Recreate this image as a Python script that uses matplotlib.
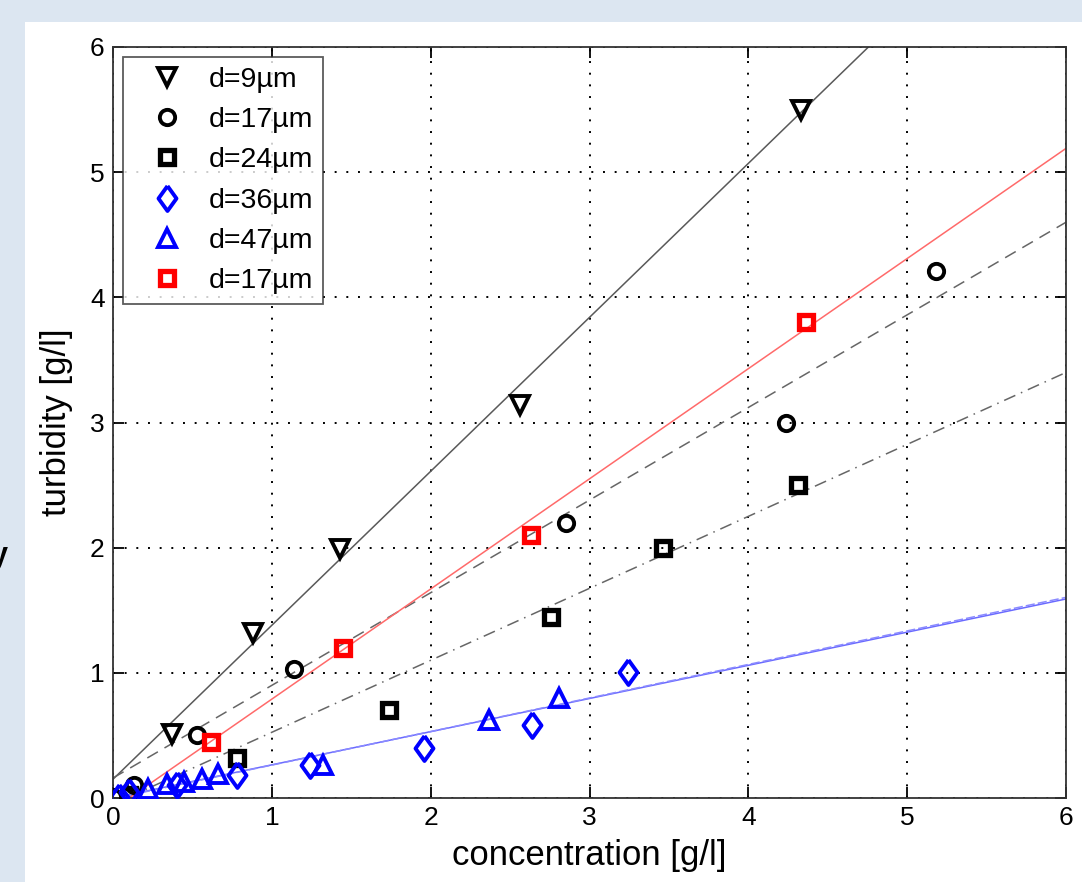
import numpy as np
import matplotlib
matplotlib.use('Agg')
import matplotlib.pyplot as plt
from matplotlib.patches import Rectangle

plt.rcParams['font.family'] = ['Liberation Sans', 'DejaVu Sans']

# data
x_d9 = [0.37, 0.88, 1.43, 2.56, 4.33]
y_d9 = [0.51, 1.32, 1.99, 3.14, 5.50]

x_d17 = [0.0, 0.13, 0.53, 1.14, 2.85, 4.24, 5.18]
y_d17 = [0.01, 0.10, 0.50, 1.03, 2.20, 3.00, 4.21]

x_d24 = [0.10, 0.78, 1.74, 2.76, 3.46, 4.31]
y_d24 = [0.02, 0.32, 0.70, 1.45, 2.00, 2.50]

x_d36 = [0.04, 0.10, 0.40, 0.78, 1.24, 1.96, 2.64, 3.24]
y_d36 = [0.01, 0.05, 0.10, 0.18, 0.26, 0.40, 0.58, 1.01]

x_d47 = [0.22, 0.34, 0.45, 0.56, 0.66, 1.32, 2.37, 2.81]
y_d47 = [0.07, 0.11, 0.13, 0.15, 0.19, 0.26, 0.62, 0.80]

x_d17r = [0.62, 1.45, 2.63, 4.36]
y_d17r = [0.45, 1.20, 2.10, 3.80]

# fitted lines (slope, intercept, x start)
fit_d9 = (1.23, 0.15, 0.0)
fit_d17 = (0.74, 0.16, 0.0)
fit_d24 = (0.575, -0.05, 0.1)
fit_d36 = (0.265, 0.0, 0.05)
fit_d47 = (0.268, -0.005, 0.1)
fit_d17r = (0.88, -0.09, 0.1)

# matlab-like diamond, a bit wider than 'd'
diamond = [(0, 1), (0.72, 0), (0, -1), (-0.72, 0), (0, 1)]

fig = plt.figure(figsize=(10.82, 8.82), dpi=100)
fig.patch.set_facecolor('#dce6f1')
fig.add_artist(Rectangle((25 / 1082, 0), 1, 1 - 22 / 882, transform=fig.transFigure,
                         facecolor='white', edgecolor='none', zorder=0))
fig.text(-0.009, 0.36, 'y', fontsize=22, fontweight='bold', color='black')

ax = fig.add_axes([113 / 1082, 1 - 798 / 882, (1066 - 113) / 1082, (798 - 47) / 882])

def fitline(fit, style, color):
    a, b, x0 = fit
    xs = np.array([x0, 6.0])
    ys = a * xs + b
    ax.plot(xs, ys, linestyle=style, color=color, lw=1.1, zorder=2)

fitline(fit_d9, '-', '0.35')
fitline(fit_d17, (0, (8, 5)), '0.4')
fitline(fit_d24, (0, (8, 4, 1, 4)), '0.4')
fitline(fit_d36, '-', '#6a6aff')
fitline(fit_d47, (0, (6, 2)), '#8a8aff')
fitline(fit_d17r, '-', '#ff6a6a')

mk = dict(linestyle='none', markerfacecolor='none', markeredgewidth=2.8, zorder=3)
ax.plot(x_d9, y_d9, marker='v', color='black', markersize=13, label='d=9\u00b5m', **mk)
ax.plot(x_d17, y_d17, marker='o', color='black', markersize=11, label='d=17\u00b5m', **mk)
ax.plot(x_d24, y_d24, marker='s', color='black', markersize=10, markeredgewidth=3.8,
        linestyle='none', markerfacecolor='none', zorder=3, label='d=24\u00b5m')
ax.plot(x_d36, y_d36, marker=diamond, color='blue', markersize=18, label='d=36\u00b5m', **mk)
ax.plot(x_d47, y_d47, marker='^', color='blue', markersize=13, label='d=47\u00b5m', **mk)
ax.plot(x_d17r, y_d17r, marker='s', color='red', markersize=10, markeredgewidth=3.8,
        linestyle='none', markerfacecolor='none', zorder=3, label='d=17\u00b5m')

ax.set_xlim(0, 6)
ax.set_ylim(0, 6)
ax.set_xticks(range(7))
ax.set_yticks(range(7))
ax.grid(True, linestyle=(0, (1, 5)), color='black', lw=1.4)
ax.tick_params(direction='in', top=True, right=True, length=8, width=1.3,
               labelsize=19, pad=6)
for s in ax.spines.values():
    s.set_linewidth(1.3)
    s.set_color('0.2')

ax.set_xlabel('concentration [g/l]', fontsize=25, labelpad=6)
ax.set_ylabel('turbidity [g/l]', fontsize=25, labelpad=12)

leg = ax.legend(loc='upper left', fontsize=20.5, frameon=True, fancybox=False,
                edgecolor='0.2', borderaxespad=0.35, handlelength=2.4,
                labelspacing=0.5, handletextpad=0.25, borderpad=0.35)
leg.get_frame().set_linewidth(1.3)

fig.savefig('out.png', dpi=100, facecolor=fig.get_facecolor())
